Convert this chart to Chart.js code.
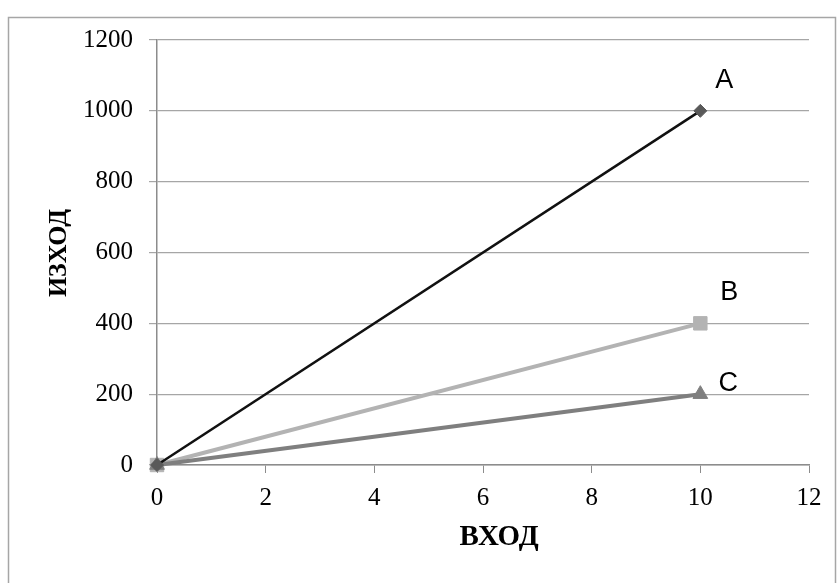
<!DOCTYPE html>
<html>
<head>
<meta charset="utf-8">
<script src="https://cdn.jsdelivr.net/npm/chart.js@4/dist/chart.umd.min.js"></script>
<style>
    html, body { margin: 0; padding: 0; background: #fff; }
    #wrap { position: relative; width: 837px; height: 583px; }
</style>
</head>
<body>
<div id="wrap"><canvas id="chart" width="837" height="583"></canvas></div>
<script>
// data
const inputs = [0, 10];
const seriesNames = ["A", "B", "C"];
const outputA = [0, 1000];
const outputB = [0, 400];
const outputC = [0, 200];
const xTitle = "ВХОД";
const yTitle = "ИЗХОД";

const toPoints = (ys) => inputs.map((x, i) => ({ x: x, y: ys[i] }));

// frame, axis titles and the end labels next to each line
const decorations = {
    id: "decorations",
    beforeDraw(chart) {
        const ctx = chart.ctx;
        ctx.save();
        ctx.strokeStyle = "#a6a6a6";
        ctx.lineWidth = 1.5;
        ctx.strokeRect(8.5, 17.5, 827, 600);
        ctx.restore();
    },
    afterDraw(chart) {
        const ctx = chart.ctx;
        ctx.save();
        ctx.fillStyle = "#000";
        ctx.textAlign = "center";
        ctx.textBaseline = "middle";
        ctx.font = "bold 29px 'Liberation Serif', 'DejaVu Serif', serif";
        ctx.fillText(xTitle, 499, 538);

        ctx.font = "bold 26px 'Liberation Serif', 'DejaVu Serif', serif";
        ctx.translate(59, 253);
        ctx.rotate(-Math.PI / 2);
        ctx.fillText(yTitle, 0, 0);
        ctx.restore();

        const offsets = [[24, -30], [29, -31], [28, -11]];
        ctx.save();
        ctx.font = "27px 'Liberation Sans', 'Open Sans', sans-serif";
        ctx.textAlign = "center";
        ctx.textBaseline = "middle";
        ctx.fillStyle = "#000";
        chart.data.datasets.forEach((ds, i) => {
            const meta = chart.getDatasetMeta(i);
            const last = meta.data[meta.data.length - 1];
            ctx.fillText(seriesNames[i], last.x + offsets[i][0], last.y + offsets[i][1]);
        });
        ctx.restore();
    },
};

new Chart(document.getElementById("chart").getContext("2d"), {
    type: "scatter",
    data: {
        datasets: [
            {
                label: seriesNames[0],
                data: toPoints(outputA),
                showLine: true,
                clip: false,
                borderColor: "#111111",
                borderWidth: 2.5,
                pointStyle: "rectRot",
                pointRadius: 6.5,
                pointBackgroundColor: "#595959",
                pointBorderColor: "#595959",
                pointBorderWidth: 1,
                order: 1,
            },
            {
                label: seriesNames[1],
                data: toPoints(outputB),
                showLine: true,
                clip: false,
                borderColor: "#b3b3b3",
                borderWidth: 4,
                pointStyle: "rect",
                pointRadius: 9.5,
                pointBackgroundColor: "#b3b3b3",
                pointBorderColor: "#b3b3b3",
                pointBorderWidth: 1,
                order: 3,
            },
            {
                label: seriesNames[2],
                data: toPoints(outputC),
                showLine: true,
                clip: false,
                borderColor: "#7f7f7f",
                borderWidth: 4,
                pointStyle: "triangle",
                pointRadius: 8.5,
                pointBackgroundColor: "#7f7f7f",
                pointBorderColor: "#7f7f7f",
                pointBorderWidth: 1,
                order: 2,
            },
        ],
    },
    options: {
        responsive: false,
        animation: false,
        layout: {
            padding: { top: 40, right: 28, left: 0, bottom: 0 },
        },
        plugins: {
            legend: { display: false },
            tooltip: { enabled: false },
        },
        scales: {
            x: {
                type: "linear",
                min: 0,
                max: 12,
                ticks: {
                    stepSize: 2,
                    color: "#000",
                    padding: 10,
                    font: { family: "'Liberation Serif', serif", size: 25 },
                    callback: (v) => String(v),
                },
                grid: {
                    display: true,
                    drawOnChartArea: false,
                    drawTicks: true,
                    tickLength: 8,
                    color: "#8c8c8c",
                },
                border: { color: "#8c8c8c", width: 1.5 },
                afterFit(scale) {
                    scale.height = 118;
                },
            },
            y: {
                min: 0,
                max: 1200,
                ticks: {
                    stepSize: 200,
                    color: "#000",
                    padding: 16,
                    font: { family: "'Liberation Serif', serif", size: 25 },
                    callback: (v) => String(v),
                },
                grid: {
                    color: "#a6a6a6",
                    lineWidth: 1.2,
                    tickLength: 8,
                    drawTicks: true,
                },
                border: { color: "#8c8c8c", width: 1.5 },
                afterFit(scale) {
                    scale.width = 157;
                },
            },
        },
    },
    plugins: [decorations],
});
</script>
</body>
</html>
